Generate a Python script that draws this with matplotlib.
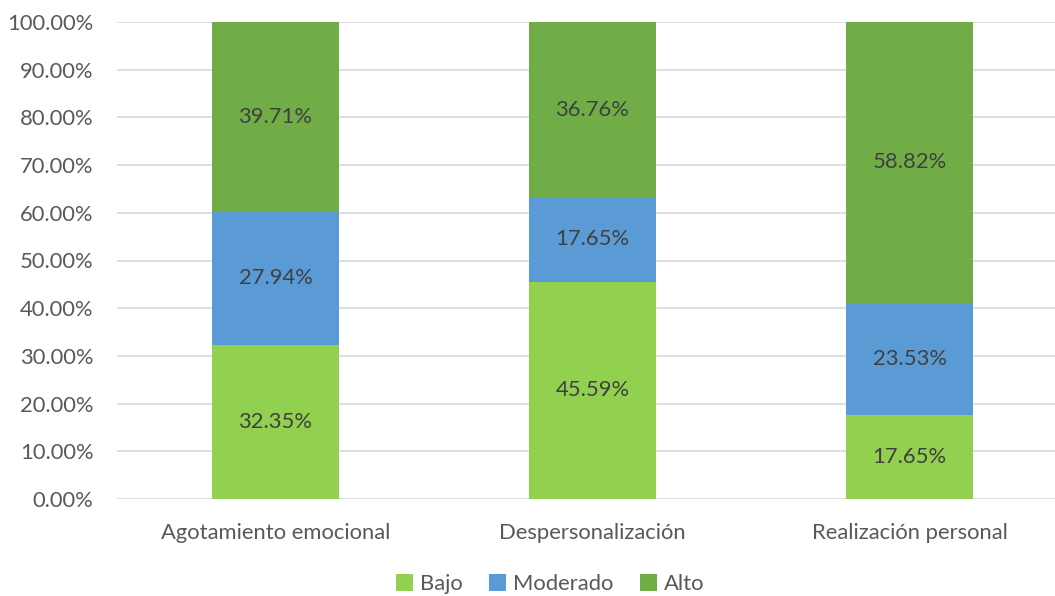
import matplotlib
matplotlib.use("Agg")
import matplotlib.pyplot as plt
import numpy as np

categories = ["Agotamiento emocional", "Despersonalización", "Realización personal"]
bajo = [32.35, 45.59, 17.65]
moderado = [27.94, 17.65, 23.53]
alto = [39.71, 36.76, 58.82]
series_names = ["Bajo", "Moderado", "Alto"]
colors = ["#92D050", "#5B9BD5", "#70AD47"]
yticks = [0, 10, 20, 30, 40, 50, 60, 70, 80, 90, 100]

plt.rcParams['font.family'] = ['Lato', 'DejaVu Sans']
FS = 15.8

fig = plt.figure(figsize=(10.55, 5.96), dpi=100)
ax = fig.add_axes([117/1055, 1 - 499/596, 951/1055, 477/596])

x = np.arange(len(categories))
bottom = np.zeros(len(categories))
for name, vals, c in zip(series_names, [bajo, moderado, alto], colors):
    ax.bar(x, vals, 0.4, bottom=bottom, color=c, label=name, zorder=3)
    for xi, b, v in zip(x, bottom, vals):
        ax.text(xi, b + v / 2, f"{v:.2f}%", ha="center", va="center",
                fontsize=FS, color="#404040", zorder=4)
    bottom = bottom + np.array(vals)

ax.set_xlim(-0.5, 2.5)
ax.set_ylim(0, 100)
ax.set_yticks(yticks)
ax.set_yticklabels([f"{t:.2f}%" for t in yticks])
ax.set_xticks(x)
ax.set_xticklabels(categories)
ax.tick_params(axis="both", length=0, labelsize=FS, colors="#595959")
ax.tick_params(axis="y", pad=17)
ax.tick_params(axis="x", pad=17)
ax.grid(axis="y", color="#D9D9D9", linewidth=1.2, zorder=0)
for s in ax.spines.values():
    s.set_visible(False)

handles, labels = ax.get_legend_handles_labels()
fig.legend(handles, labels, loc="center", bbox_to_anchor=(550/1055, 1 - 584/596),
           ncol=3, frameon=False, fontsize=FS, labelcolor="#595959",
           handlelength=0.8, handleheight=0.8, handletextpad=0.3, columnspacing=1.2)

fig.savefig("out.png", dpi=100)
